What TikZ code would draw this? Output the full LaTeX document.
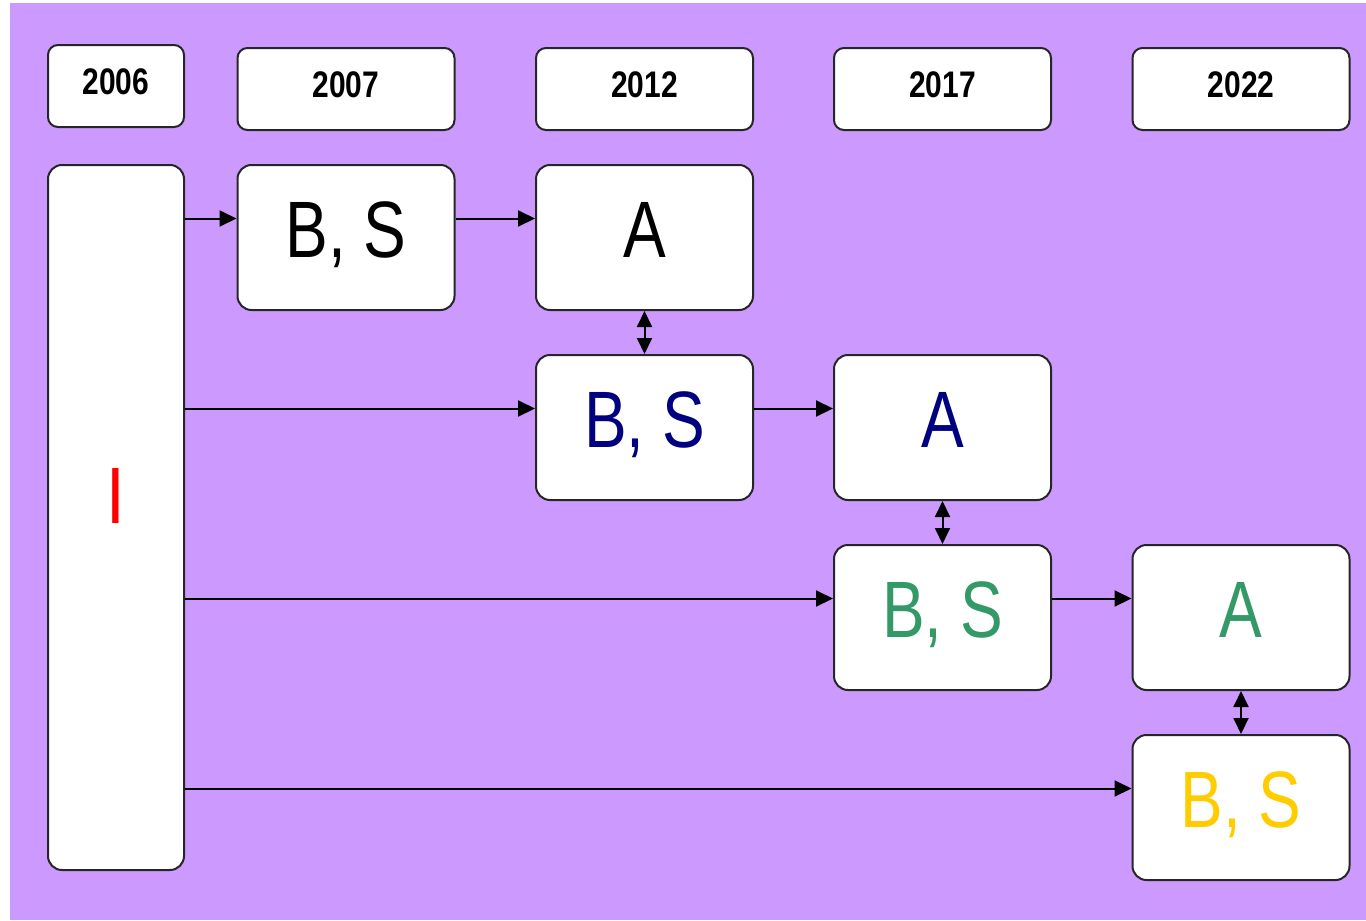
\documentclass[tikz,border=0pt]{standalone}
\usepackage{fontspec}
\setmainfont{Liberation Sans}
\usetikzlibrary{arrows.meta,calc}
\definecolor{bgpurple}{HTML}{CC99FF}
\definecolor{navytxt}{HTML}{000080}
\definecolor{greentxt}{HTML}{339966}
\definecolor{yellowtxt}{HTML}{FFCC00}
\definecolor{redtxt}{HTML}{FF0000}
\definecolor{edge}{HTML}{262626}
\begin{document}
\begin{tikzpicture}[x=1pt,y=-1pt,
  box/.style={draw=edge,line width=2pt,fill=white,rounded corners=14pt,minimum width=217pt,minimum height=145pt,inner sep=0pt},
  yearbox/.style={box,rounded corners=10pt,minimum height=82pt},
  yeartxt/.style={anchor=base,inner sep=0pt,font=\fontsize{37}{37}\selectfont\bfseries},
  bigtxt/.style={anchor=base,inner sep=0pt,font=\fontsize{80}{80}\selectfont},
  arr/.style={line width=2pt,-{Triangle[length=17pt,width=16pt]}},
  darr/.style={line width=2pt,{Triangle[length=16pt,width=15pt]}-{Triangle[length=16pt,width=15pt]}}]
\useasboundingbox (0,0) rectangle (1366,921);
\fill[white] (0,0) rectangle (1366,921);
\fill[bgpurple] (10,3) rectangle (1366,920);
% year boxes
\node[yearbox,minimum width=136pt] (y2006) at (116,86) {};
\node[yearbox] (y2007) at (346,89) {};
\node[yearbox] (y2012) at (644.5,89) {};
\node[yearbox] (y2017) at (942.5,89) {};
\node[yearbox] (y2022) at (1241,89) {};
\foreach \n/\t in {y2006/2006,y2007/2007,y2012/2012,y2017/2017,y2022/2022}
  \node[yeartxt] at ($(\n)+(0,8)$) {\scalebox{0.81}[1]{\t}};
% main boxes
\node[box,minimum width=136pt,minimum height=705pt] (I) at (116,517.5) {};
\node[box] (bs1) at (346,237.5) {};
\node[box] (a1) at (644.5,237.5) {};
\node[box] (bs2) at (644.5,427.5) {};
\node[box] (a2) at (942.5,427.5) {};
\node[box] (bs3) at (942.5,617.5) {};
\node[box] (a3) at (1241,617.5) {};
\node[box] (bs4) at (1241,807.5) {};
% texts
\node[bigtxt,text=redtxt] at ($(I)+(0,5.5)$) {\scalebox{0.84}[1]{I}};
\node[bigtxt] at ($(bs1)+(0,19.5)$) {\scalebox{0.8}[1]{B, S}};
\node[bigtxt] at ($(a1)+(0,19.5)$) {\scalebox{0.8}[1]{A}};
\node[bigtxt,text=navytxt] at ($(bs2)+(0,19.5)$) {\scalebox{0.8}[1]{B, S}};
\node[bigtxt,text=navytxt] at ($(a2)+(0,19.5)$) {\scalebox{0.8}[1]{A}};
\node[bigtxt,text=greentxt] at ($(bs3)+(0,19.5)$) {\scalebox{0.8}[1]{B, S}};
\node[bigtxt,text=greentxt] at ($(a3)+(0,19.5)$) {\scalebox{0.8}[1]{A}};
\node[bigtxt,text=yellowtxt] at ($(bs4)+(0,19.5)$) {\scalebox{0.8}[1]{B, S}};
% horizontal arrows
\foreach \t in {bs1,bs2,bs3,bs4}
  \draw[arr] (I.east |- {$(\t.west)+(0,-19)$}) -- ($(\t.west)+(0,-19)$);
\draw[arr] ($(bs1.east)+(0,-19)$) -- ($(a1.west)+(0,-19)$);
\draw[arr] ($(bs2.east)+(0,-19)$) -- ($(a2.west)+(0,-19)$);
\draw[arr] ($(bs3.east)+(0,-19)$) -- ($(a3.west)+(0,-19)$);
% vertical double arrows
\draw[darr] (a1.south) -- (bs2.north);
\draw[darr] (a2.south) -- (bs3.north);
\draw[darr] (a3.south) -- (bs4.north);
\end{tikzpicture}
\end{document}
